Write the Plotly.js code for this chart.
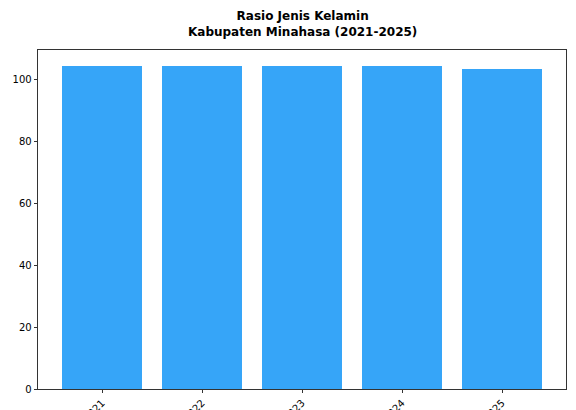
<!DOCTYPE html>
<html>
<head>
<meta charset="utf-8">
<script src="https://cdn.plot.ly/plotly-3.0.1.min.js"></script>
<style>html,body{margin:0;padding:0;background:#fff;}#chart{width:576px;height:410px;}</style>
</head>
<body>
<div id="chart"></div>
<script>
const years = ["2021", "2022", "2023", "2024", "2025"];
const sexRatio = [104.3, 104.3, 104.3, 104.3, 103.3];
const positions = years.map((_, i) => i);
const titleText = "<b>Rasio Jenis Kelamin</b><br><b>Kabupaten Minahasa (2021-2025)</b>";

const trace = {
  type: "bar",
  x: positions,
  y: sexRatio,
  width: 0.8,
  marker: {color: "#36a5f8", line: {width: 0}},
  hoverinfo: "skip"
};

const layout = {
  width: 576,
  height: 410,
  margin: {l: 38, r: 10, t: 50, b: 21},
  paper_bgcolor: "#ffffff",
  plot_bgcolor: "#ffffff",
  font: {family: "DejaVu Sans", size: 10, color: "#000"},
  showlegend: false,
  bargap: 0,
  annotations: [{
    text: titleText,
    xref: "paper", x: 0.5, xanchor: "center",
    yref: "paper", y: 1.077, yanchor: "middle",
    showarrow: false,
    font: {family: "DejaVu Sans", size: 12, color: "#000"}
  }],
  xaxis: {
    type: "linear",
    range: [-0.64, 4.64],
    tickvals: positions,
    ticktext: years,
    tickangle: -45,
    ticks: "outside", ticklen: 3.5, tickwidth: 0.8, tickcolor: "#000",
    showline: true, linecolor: "#000", linewidth: 0.8, mirror: true,
    showgrid: false, zeroline: false,
    tickfont: {family: "DejaVu Sans", size: 10, color: "#000"}
  },
  yaxis: {
    range: [0, 109.6],
    tickvals: [0, 20, 40, 60, 80, 100],
    ticks: "outside", ticklen: 3.5, tickwidth: 0.8, tickcolor: "#000",
    showline: true, linecolor: "#000", linewidth: 0.8, mirror: true,
    showgrid: false, zeroline: false,
    tickfont: {family: "DejaVu Sans", size: 10, color: "#000"}
  }
};

Plotly.newPlot("chart", [trace], layout, {displayModeBar: false, staticPlot: true});
</script>
</body>
</html>
